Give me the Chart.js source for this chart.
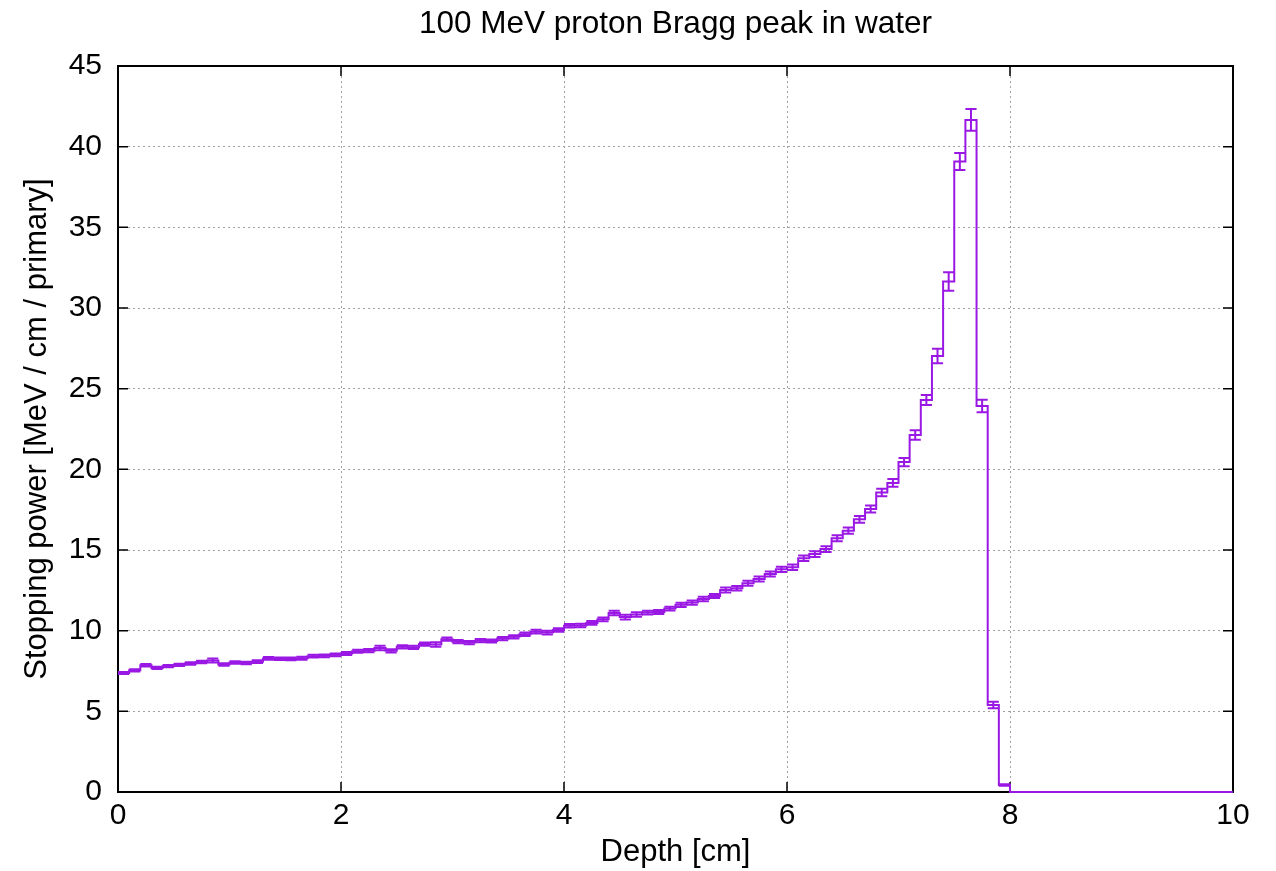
<!DOCTYPE html>
<html lang="en">
<head>
  <meta charset="UTF-8">
  <title>100 MeV proton Bragg peak in water</title>
  <script src="https://cdn.jsdelivr.net/npm/chart.js"></script>
  <style>
    html, body { margin: 0; padding: 0; background: #fff; }
    #wrap { width: 1276px; height: 871px; }
  </style>
</head>
<body>
  <div id="wrap"><canvas id="bragg" width="1276" height="871"></canvas></div>

  <script>
    // bin start (cm), bin width 0.1 cm
    const depthBinStart = [
      0.0, 0.1, 0.2, 0.3, 0.4, 0.5, 0.6, 0.7, 0.8, 0.9,
      1.0, 1.1, 1.2, 1.3, 1.4, 1.5, 1.6, 1.7, 1.8, 1.9,
      2.0, 2.1, 2.2, 2.3, 2.4, 2.5, 2.6, 2.7, 2.8, 2.9,
      3.0, 3.1, 3.2, 3.3, 3.4, 3.5, 3.6, 3.7, 3.8, 3.9,
      4.0, 4.1, 4.2, 4.3, 4.4, 4.5, 4.6, 4.7, 4.8, 4.9,
      5.0, 5.1, 5.2, 5.3, 5.4, 5.5, 5.6, 5.7, 5.8, 5.9,
      6.0, 6.1, 6.2, 6.3, 6.4, 6.5, 6.6, 6.7, 6.8, 6.9,
      7.0, 7.1, 7.2, 7.3, 7.4, 7.5, 7.6, 7.7, 7.8, 7.9,
      8.0, 8.1, 8.2, 8.3, 8.4, 8.5, 8.6, 8.7, 8.8, 8.9,
      9.0, 9.1, 9.2, 9.3, 9.4, 9.5, 9.6, 9.7, 9.8, 9.9
    ];
    const depthMax = 10;

    // MeV / cm / primary
    const stoppingPower = [
      7.38, 7.54, 7.86, 7.69, 7.80, 7.88, 7.96, 8.06, 8.15, 7.90,
      8.03, 8.00, 8.08, 8.28, 8.26, 8.25, 8.29, 8.42, 8.44, 8.50,
      8.58, 8.72, 8.76, 8.93, 8.75, 9.00, 8.96, 9.17, 9.14, 9.47,
      9.32, 9.26, 9.38, 9.36, 9.51, 9.62, 9.78, 9.94, 9.88, 10.04,
      10.31, 10.32, 10.48, 10.70, 11.10, 10.84, 11.00, 11.12, 11.16, 11.37,
      11.60, 11.74, 11.96, 12.15, 12.52, 12.63, 12.94, 13.20, 13.51, 13.80,
      13.93, 14.49, 14.75, 15.06, 15.73, 16.20, 16.90, 17.54, 18.56, 19.16,
      20.45, 22.13, 24.30, 27.03, 31.64, 39.08, 41.66, 23.93, 5.39, 0.43,
      0, 0, 0, 0, 0, 0, 0, 0, 0, 0,
      0, 0, 0, 0, 0, 0, 0, 0, 0, 0
    ];

    const stoppingPowerErr = [
      0.06, 0.07, 0.08, 0.07, 0.07, 0.07, 0.08, 0.08, 0.12, 0.08,
      0.08, 0.08, 0.08, 0.09, 0.08, 0.08, 0.09, 0.09, 0.09, 0.09,
      0.09, 0.09, 0.10, 0.14, 0.10, 0.10, 0.10, 0.10, 0.14, 0.10,
      0.10, 0.10, 0.10, 0.10, 0.10, 0.10, 0.11, 0.11, 0.11, 0.11,
      0.11, 0.11, 0.12, 0.12, 0.14, 0.15, 0.14, 0.12, 0.12, 0.12,
      0.13, 0.13, 0.14, 0.13, 0.15, 0.14, 0.15, 0.15, 0.16, 0.16,
      0.17, 0.17, 0.18, 0.18, 0.19, 0.20, 0.21, 0.22, 0.23, 0.24,
      0.26, 0.29, 0.31, 0.45, 0.57, 0.52, 0.68, 0.39, 0.20, 0.05,
      0, 0, 0, 0, 0, 0, 0, 0, 0, 0,
      0, 0, 0, 0, 0, 0, 0, 0, 0, 0
    ];

    const xTicks = [0, 2, 4, 6, 8, 10];
    const yTicks = [0, 5, 10, 15, 20, 25, 30, 35, 40, 45];

    const chartTitle = '100 MeV proton Bragg peak in water';
    const lineColor = '#9a18e4';

    // histogram steps: each bin value held from its start to the next bin start
    const stepPoints = depthBinStart.map((x, i) => ({ x: x, y: stoppingPower[i] }));
    stepPoints.push({ x: depthMax, y: stoppingPower[stoppingPower.length - 1] });

    // frame + inward ticks on all four sides (gnuplot style), title over the plot
    const frame = {
      id: 'frame',
      beforeDatasetsDraw(chart) {
        const { ctx, chartArea: a, scales: { x, y } } = chart;
        ctx.save();
        ctx.strokeStyle = '#000';
        ctx.lineWidth = 1.5;
        ctx.beginPath();
        xTicks.forEach(v => {
          const px = x.getPixelForValue(v);
          ctx.moveTo(px, a.bottom); ctx.lineTo(px, a.bottom - 10);
          ctx.moveTo(px, a.top); ctx.lineTo(px, a.top + 10);
        });
        yTicks.forEach(v => {
          const py = y.getPixelForValue(v);
          ctx.moveTo(a.left, py); ctx.lineTo(a.left + 10, py);
          ctx.moveTo(a.right, py); ctx.lineTo(a.right - 10, py);
        });
        ctx.stroke();
        ctx.lineWidth = 2;
        ctx.strokeRect(a.left, a.top, a.right - a.left, a.bottom - a.top);
        ctx.restore();
      },
      afterDraw(chart) {
        const { ctx, chartArea: a } = chart;
        ctx.save();
        ctx.fillStyle = '#000';
        ctx.font = '31.5px "Liberation Sans", Arial, sans-serif';
        ctx.textAlign = 'center';
        ctx.textBaseline = 'middle';
        ctx.fillText(chartTitle, (a.left + a.right) / 2, 24);
        ctx.restore();
      }
    };

    const errorBars = {
      id: 'errorBars',
      afterDatasetsDraw(chart) {
        const { ctx, scales: { x, y } } = chart;
        ctx.save();
        ctx.strokeStyle = lineColor;
        ctx.lineWidth = 2;
        ctx.beginPath();
        depthBinStart.forEach((d0, i) => {
          const e = stoppingPowerErr[i];
          if (!e) return;
          const d1 = i + 1 < depthBinStart.length ? depthBinStart[i + 1] : depthMax;
          const x0 = x.getPixelForValue(d0);
          const x1 = x.getPixelForValue(d1);
          const xc = (x0 + x1) / 2;
          const yLo = y.getPixelForValue(stoppingPower[i] - e);
          const yHi = y.getPixelForValue(stoppingPower[i] + e);
          ctx.moveTo(xc, yLo); ctx.lineTo(xc, yHi);
          ctx.moveTo(x0, yLo); ctx.lineTo(x1, yLo);
          ctx.moveTo(x0, yHi); ctx.lineTo(x1, yHi);
        });
        ctx.stroke();
        ctx.restore();
      }
    };

    Chart.defaults.font.family = '"Liberation Sans", Arial, sans-serif';
    Chart.defaults.color = '#000';

    new Chart(document.getElementById('bragg'), {
      type: 'line',
      data: {
        datasets: [{
          label: 'Stopping power',
          data: stepPoints,
          borderColor: lineColor,
          borderWidth: 2,
          pointRadius: 0,
          fill: false,
          clip: 4,
          stepped: 'before'
        }]
      },
      options: {
        responsive: false,
        animation: false,
        devicePixelRatio: 1,
        layout: { padding: { left: 0, right: 43, top: 66, bottom: 0 } },
        plugins: {
          legend: { display: false },
          tooltip: { enabled: false },
          title: { display: false }
        },
        scales: {
          x: {
            type: 'linear',
            min: 0,
            max: 10,
            afterFit: s => { s.height = 79; },
            afterBuildTicks: s => { s.ticks = xTicks.map(v => ({ value: v })); },
            ticks: { font: { size: 30 }, padding: 6, maxRotation: 0 },
            grid: { color: '#a0a0a0', lineWidth: 1, drawTicks: false },
            border: { display: false, dash: [2, 3] },
            title: {
              display: true,
              text: 'Depth [cm]',
              font: { size: 31 },
              padding: { top: 0, bottom: 0 }
            }
          },
          y: {
            type: 'linear',
            min: 0,
            max: 45,
            afterFit: s => { s.width = 118; },
            afterBuildTicks: s => { s.ticks = yTicks.map(v => ({ value: v })); },
            ticks: { font: { size: 30 }, padding: 16 },
            grid: { color: '#a0a0a0', lineWidth: 1, drawTicks: false },
            border: { display: false, dash: [2, 3] },
            title: {
              display: true,
              text: 'Stopping power [MeV / cm / primary]',
              font: { size: 31 },
              padding: { top: 19, bottom: 0 }
            }
          }
        }
      },
      plugins: [frame, errorBars]
    });
  </script>
</body>
</html>
